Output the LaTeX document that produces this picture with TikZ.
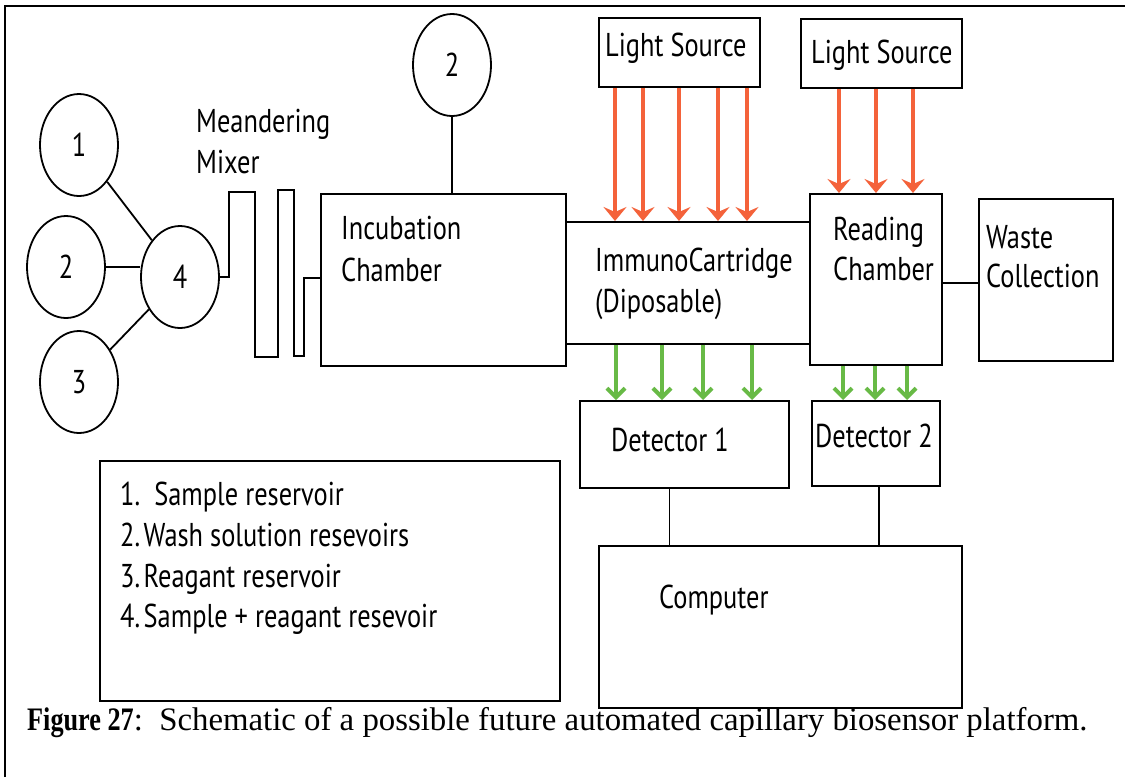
\documentclass[tikz,border=0pt]{standalone}
\usepackage{fontspec}
\usetikzlibrary{shapes.geometric,arrows.meta}
\newfontfamily\diagfont{PT Sans}[FakeStretch=0.8]
\newfontfamily\capfont{Liberation Serif}[BoldFeatures={FakeStretch=0.8}]
\definecolor{lightred}{RGB}{244,98,58}
\definecolor{detgreen}{RGB}{104,186,70}
\begin{document}
\begin{tikzpicture}[x=1pt,y=-1pt,
  box/.style={draw, line width=1.8pt, rectangle, inner sep=0pt, anchor=north west},
  res/.style={draw, line width=1.8pt, ellipse, minimum width=78pt, minimum height=102pt, inner sep=0pt, font=\diagfont\fontsize{33}{38}\selectfont},
  txt/.style={anchor=base west, inner sep=0pt, font=\diagfont\fontsize{33}{38}\selectfont},
  wire/.style={line width=1.8pt},
  lightray/.style={draw=lightred, line width=4pt, -{Stealth[length=14pt,width=23pt,inset=5pt]}},
  signal/.style={draw=detgreen, line width=4pt, -{Straight Barb[length=9pt,width=18pt]}},
]
\useasboundingbox (0,0) rectangle (1125,777);
\fill[white] (0,0) rectangle (1125,777);
% outer frame
\draw[line width=2pt] (5,777) -- (5,6) -- (1125,6);

% reservoirs
\node[res] (c1) at (79,145) {1};
\node[res] (c2) at (66,267) {2};
\node[res] (c3) at (79,382) {3};
\node[res] (c4) at (180,277) {4};
\node[res] (c2t) at (452,65) {2};

% boxes
\node[box, minimum width=245pt, minimum height=172pt] (inc) at (320,193) {};
\node[box, minimum width=244pt, minimum height=122pt] (cart) at (565,221) {};
\node[box, minimum width=132pt, minimum height=171pt] (rc) at (809,193) {};
\node[box, minimum width=134pt, minimum height=162pt] (wc) at (978,198) {};
\node[box, minimum width=161pt, minimum height=69pt] (ls1) at (598,17) {};
\node[box, minimum width=161pt, minimum height=69pt] (ls2) at (800,18) {};
\node[box, minimum width=209pt, minimum height=87pt] (d1) at (579,400) {};
\node[box, minimum width=128pt, minimum height=85pt] (d2) at (811,400) {};
\node[box, minimum width=363pt, minimum height=162pt] (comp) at (598,545) {};
\node[box, minimum width=460pt, minimum height=240pt] (leg) at (99,460) {};

% texts
\node[txt] (tmea1) at (196,132) {Meandering};
\node[txt] (tmea2) at (196,173) {Mixer};
\node[txt] (tinc1) at (341,239) {Incubation};
\node[txt] (tinc2) at (341,281) {Chamber};
\node[txt] (tcar1) at (595,271) {ImmunoCartridge};
\node[txt] (tcar2) at (595,312) {(Diposable)};
\node[txt] (trc1) at (833,240) {Reading};
\node[txt] (trc2) at (833,280) {Chamber};
\node[txt] (twc1) at (986,248) {Waste};
\node[txt] (twc2) at (986,287) {Collection};
\node[txt] (tls1) at (605,56) {Light Source};
\node[txt] (tls2) at (811,63) {Light Source};
\node[txt] (td1) at (611,451) {Detector 1};
\node[txt] (td2) at (815,447) {Detector 2};
\node[txt] (tcomp) at (659,608) {Computer};
\node[txt] (tleg1) at (120,505) {1.\ \ Sample reservoir};
\node[txt] (tleg2) at (120,546) {2.\kern3.5pt Wash solution resevoirs};
\node[txt] (tleg3) at (120,587) {3.\kern3.5pt Reagant reservoir};
\node[txt] (tleg4) at (120,627) {4.\kern3.5pt Sample + reagant resevoir};
\node[anchor=base west, inner sep=0pt, font=\capfont\fontsize{32.8}{38}\selectfont] (cap) at (27,730) {\textbf{Figure 27}:\ \ Schematic of a possible future automated capillary biosensor platform.};

% connections
\draw[wire] (c1) -- (c4);
\draw[wire] (c2.east) -- (c2.east -| c4.west);
\draw[wire] (c3) -- (c4);
\draw[wire] (c4.east) -| (229,192) -| (255,357) -| (278,190) -| (294,356) -| (304,278) -- (304,278 -| inc.west);
\draw[wire] (c2t.south) -- (c2t.south |- inc.north);
\draw[wire] ([yshift=-3.5pt]rc.east) -- ([yshift=-3.5pt]rc.east -| wc.west);
\draw[wire] ([xshift=-15pt]d1.south) -- ([xshift=-15pt]d1.south |- comp.north);
\draw[wire] ([xshift=3pt]d2.south) -- ([xshift=3pt]d2.south |- comp.north);

% light rays
\foreach \x in {615,643,679,718,747}
  \draw[lightray] (ls1.south -| \x,0) -- (cart.north -| \x,0);
\foreach \x in {839,876,913}
  \draw[lightray] (ls2.south -| \x,0) -- (rc.north -| \x,0);
% detection signals
\foreach \x in {616,662,703,752}
  \draw[signal] (cart.south -| \x,0) -- (d1.north -| \x,0);
\foreach \x in {843,875,907}
  \draw[signal] (rc.south -| \x,0) -- (d2.north -| \x,0);
\end{tikzpicture}
\end{document}
